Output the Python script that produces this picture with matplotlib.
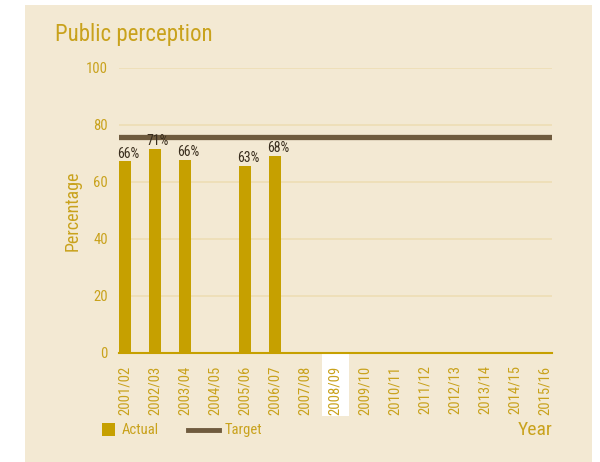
import matplotlib.pyplot as plt
from matplotlib import font_manager as fm
from matplotlib.patches import Rectangle
from matplotlib.lines import Line2D

# data
years = ['2001/02', '2002/03', '2003/04', '2004/05', '2005/06', '2006/07', '2007/08',
         '2008/09', '2009/10', '2010/11', '2011/12', '2012/13', '2013/14', '2014/15', '2015/16']
actual_years = ['2001/02', '2002/03', '2003/04', '2005/06', '2006/07']
actual = [67.2, 71.5, 67.6, 65.6, 69.1]
actual_labels = ['66%', '71%', '66%', '63%', '68%']
target = 75.8
highlight_year = '2008/09'

BG = '#F3E9D3'
GOLD = '#C6A000'
TEXT_GOLD = '#C9A21C'
BROWN = '#6F5B3E'
DARK = '#3A2E1E'

# condensed font if there is one, else something narrow-ish
names = {f.name for f in fm.fontManager.ttflist}
font = 'DejaVu Sans'
for cand in ['Liberation Sans Narrow', 'Roboto Condensed', 'Open Sans Condensed', 'Lato']:
    if cand in names:
        font = cand
        break
plt.rcParams['font.family'] = [font, 'DejaVu Sans']

fig = plt.figure(figsize=(6, 4.62), dpi=100)
fig.patch.set_facecolor('white')
fig.patches.append(Rectangle((25 / 600, 0), 567 / 600, 457 / 462, transform=fig.transFigure,
                             facecolor=BG, edgecolor='none', zorder=-10))

ax = fig.add_axes([119 / 600, 1 - 353 / 462, 433 / 600, (353 - 67.5) / 462])
ax.set_zorder(2)
ax.patch.set_alpha(0)

x = list(range(len(years)))
bar_x = [years.index(y) for y in actual_years]
ax.bar(bar_x, actual, width=0.4, color=GOLD, zorder=3)
for bx, h, lab in zip(bar_x, actual, actual_labels):
    ax.text(bx + 0.1, h + 0.2, lab, ha='center', va='bottom', fontsize=10, color=DARK, zorder=6)

ax.axhline(target, color=BROWN, linewidth=3.8, zorder=4)

ax.set_xlim(-0.2, 14.23)
ax.set_ylim(0, 100)
ax.set_yticks([0, 20, 40, 60, 80, 100])
ax.yaxis.grid(True, color='#EEDDB4', linewidth=1.2, zorder=1)
ax.set_axisbelow(True)
for s in ['top', 'right', 'left']:
    ax.spines[s].set_visible(False)
ax.spines['bottom'].set_color(GOLD)
ax.spines['bottom'].set_linewidth(1.5)
ax.spines['bottom'].set_zorder(5)
ax.tick_params(axis='y', length=0, pad=8, labelcolor=TEXT_GOLD, labelsize=10.5)
ax.tick_params(axis='x', length=0, pad=9, labelcolor=TEXT_GOLD, labelsize=10.5)
ax.set_xticks(x)
ax.set_xticklabels(years, rotation=90, va='top', ha='center')
ax.set_ylabel('Percentage', color=TEXT_GOLD, fontsize=13, labelpad=3)

# white box behind the highlighted year
hi = years.index(highlight_year)
ax.add_patch(Rectangle((hi - 0.45, -22), 0.9, 22, transform=ax.transData, clip_on=False,
                       facecolor='white', edgecolor='none', zorder=0))

fig.text(55 / 600, 1 - 35 / 462, 'Public perception', fontsize=16.5, color=TEXT_GOLD,
         ha='left', va='center')

# legend
fig.patches.append(Rectangle((102 / 600, 1 - 436 / 462), 13 / 600, 13 / 462,
                             transform=fig.transFigure, facecolor=GOLD, edgecolor='none'))
fig.text(122 / 600, 1 - 430 / 462, 'Actual', fontsize=10.5, color=TEXT_GOLD, va='center')
fig.lines.append(Line2D([188 / 600, 219 / 600], [1 - 430 / 462, 1 - 430 / 462],
                        transform=fig.transFigure, color=BROWN, linewidth=3.5))
fig.text(225 / 600, 1 - 430 / 462, 'Target', fontsize=10.5, color=TEXT_GOLD, va='center')
fig.text(553 / 600, 1 - 430 / 462, 'Year', fontsize=14, color=TEXT_GOLD, ha='right', va='center')

fig.savefig('out.png', dpi=100, facecolor='white')
